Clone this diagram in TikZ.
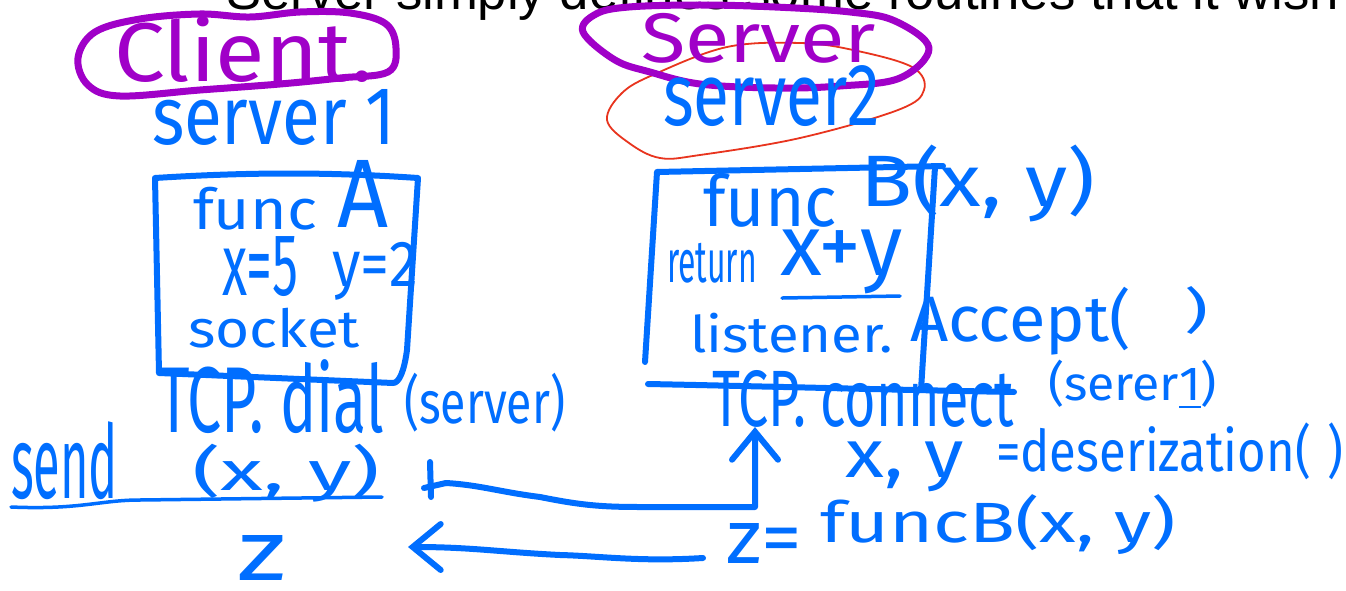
\documentclass[tikz,border=0pt]{standalone}
\usepackage{graphicx}
\usepackage{fontspec}
\setmainfont{Fira Sans}
\newfontfamily\printfont{Liberation Sans}
\usetikzlibrary{arrows.meta}
\definecolor{inkblue}{RGB}{0,110,255}
\definecolor{inkpurple}{RGB}{160,0,200}
\definecolor{inkred}{RGB}{232,52,30}
% squeeze a piece of handwriting into a w x h box (in pt)
\newcommand{\fitto}[3]{\resizebox*{#1pt}{#2pt}{#3}}
\tikzset{
  ink/.style={inner sep=0pt, outer sep=0pt, anchor=north west, text=inkblue, font=\mdseries},
  thinink/.style={ink},
  purpleink/.style={ink, text=inkpurple},
  stroke/.style={draw=inkblue, line width=6pt, line cap=round, line join=round},
  thinstroke/.style={stroke, line width=3.5pt},
  loop/.style={draw=inkpurple, line width=7pt, line cap=round, line join=round},
  redloop/.style={draw=inkred, line width=1.8pt},
  arrowstroke/.style={stroke, -{Straight Barb[length=28pt,width=46pt,line cap=round]}},
}
\begin{document}
\begin{tikzpicture}[x=1pt,y=-1pt]
\useasboundingbox (0,0) rectangle (1346,591);
\fill[white] (0,0) rectangle (1346,591);
\clip (0,0) rectangle (1346,591);

% printed heading, cut by the top edge
\node[anchor=base west, inner sep=0pt, font=\printfont\fontsize{52.7pt}{60pt}\selectfont]
  (heading) at (226,10) {Server simply defines some routines that it wish};

% loops round the two roles
\draw[loop] plot[smooth cycle, tension=0.6] coordinates {
  (78,58) (95,32) (140,19) (200,14) (250,17) (300,12) (350,13) (386,24)
  (396,48) (388,72) (340,78) (280,84) (200,90) (120,96) (88,85)};
\draw[redloop] plot[smooth cycle, tension=0.6] coordinates {
  (607,120) (622,93) (655,74) (727,47) (800,43) (853,50) (912,67) (924,90)
  (898,110) (800,138) (700,155) (660,158) (629,143)};
\draw[loop] plot[smooth cycle, tension=0.6] coordinates {
  (583,32) (596,14) (629,7) (700,5) (775,7) (850,12) (895,21) (929,48)
  (900,78) (840,86) (775,88) (700,84) (650,72) (615,60)};

% client side
\node[purpleink] (client) at (114,16) {\fitto{259}{66}{Client.}};
\node[ink] (srvone) at (152,89) {\fitto{243}{56}{server 1}};
\draw[stroke] (155,178) .. controls (250,172) and (330,172) .. (418,178)
  -- (407,350) .. controls (404,372) and (399,383) .. (393,383)
  -- (159,373) -- cycle;
\node[thinink] (funcA) at (193,187) {\fitto{124}{43}{func}};
\node[ink] (nameA) at (337,160) {\fitto{51}{67}{A}};
\node[ink] (xval) at (222,237) {\fitto{76}{60}{x=5}};
\node[ink] (yval) at (332,242) {\fitto{86}{58}{y=2}};
\node[ink] (sock) at (188,308) {\fitto{172}{40}{socket}};
\node[ink] (dial) at (158,360) {\fitto{226}{74}{TCP. dial}};
\node[ink] (dialarg) at (404,373) {\fitto{161}{59}{(server)}};
\node[ink] (send) at (11,422) {\fitto{107}{78}{send}};
\node[ink] (sendarg) at (192,444) {\fitto{188}{58}{(x, y)}};
\draw[thinstroke] (11,507) .. controls (80,510) and (100,500) .. (140,500) -- (382,497);
\node[ink] (zres) at (237,535) {\fitto{49}{45}{z}};

% server side
\node[purpleink] (server) at (641,13) {\fitto{235}{50}{Server}};
\node[ink] (srvtwo) at (663,66) {\fitto{217}{61}{server2}};
\draw[stroke] (943,166) -- (657,172) -- (645,362);
\draw[stroke] (935,167) -- (921,390);
\node[thinink] (funcB) at (703,173) {\fitto{134}{54}{func}};
\node[ink] (sigB) at (860,145) {\fitto{235}{77}{B(x, y)}};
\node[thinink] (ret) at (667,243) {\fitto{90}{40}{return}};
\node[ink] (sum) at (780,230) {\fitto{123}{64}{x+y}};
\draw[thinstroke] (sum.south west) ++(2,4) -- ++(118,-2);
\node[ink] (listen) at (690,313) {\fitto{203}{40}{listener.}};
\node[ink] (accept) at (910,287) {\fitto{221}{68}{Accept(}};
\node[ink] (acceptend) at (1184,287) {\fitto{24}{48}{)}};
\node[ink] (tcpconn) at (712,370) {\fitto{302}{57}{TCP. connect}};
\draw[stroke] (648,384) .. controls (750,386) and (900,390) .. (1014,392);
\node[ink] (conarg) at (1048,360) {\fitto{169}{50}{(serer\underline{1})}};
\node[ink] (xy) at (845,442) {\fitto{119}{50}{x, y}};
\node[ink] (deser) at (996,423) {\fitto{347}{57}{=deserization(\,\,)}};
\node[ink] (zeq) at (726,523) {\fitto{76}{40}{z=}};
\node[ink] (callB) at (820,495) {\fitto{356}{60}{funcB(x, y)}};

% request: send(x, y) goes over to the server's connection
\coordinate (sendmark) at (446,483);
\coordinate (bend) at (755,507);
\draw[stroke] (430,462) -- (431,497);
\draw[stroke] (424,488) -- (sendmark);
\draw[arrowstroke] (sendmark) .. controls (480,485) and (500,492) .. (540,497)
  .. controls (580,505) and (600,507) .. (640,507) -- (bend) -- (bend |- tcpconn.south);

% reply: the result comes back as z
\coordinate (retfrom) at (703,558);
\coordinate (retto) at (408,547);
\draw[arrowstroke] (retfrom) .. controls (640,562) and (600,556) .. (560,555)
  .. controls (500,552) and (470,547) .. (retto);
\end{tikzpicture}
\end{document}
